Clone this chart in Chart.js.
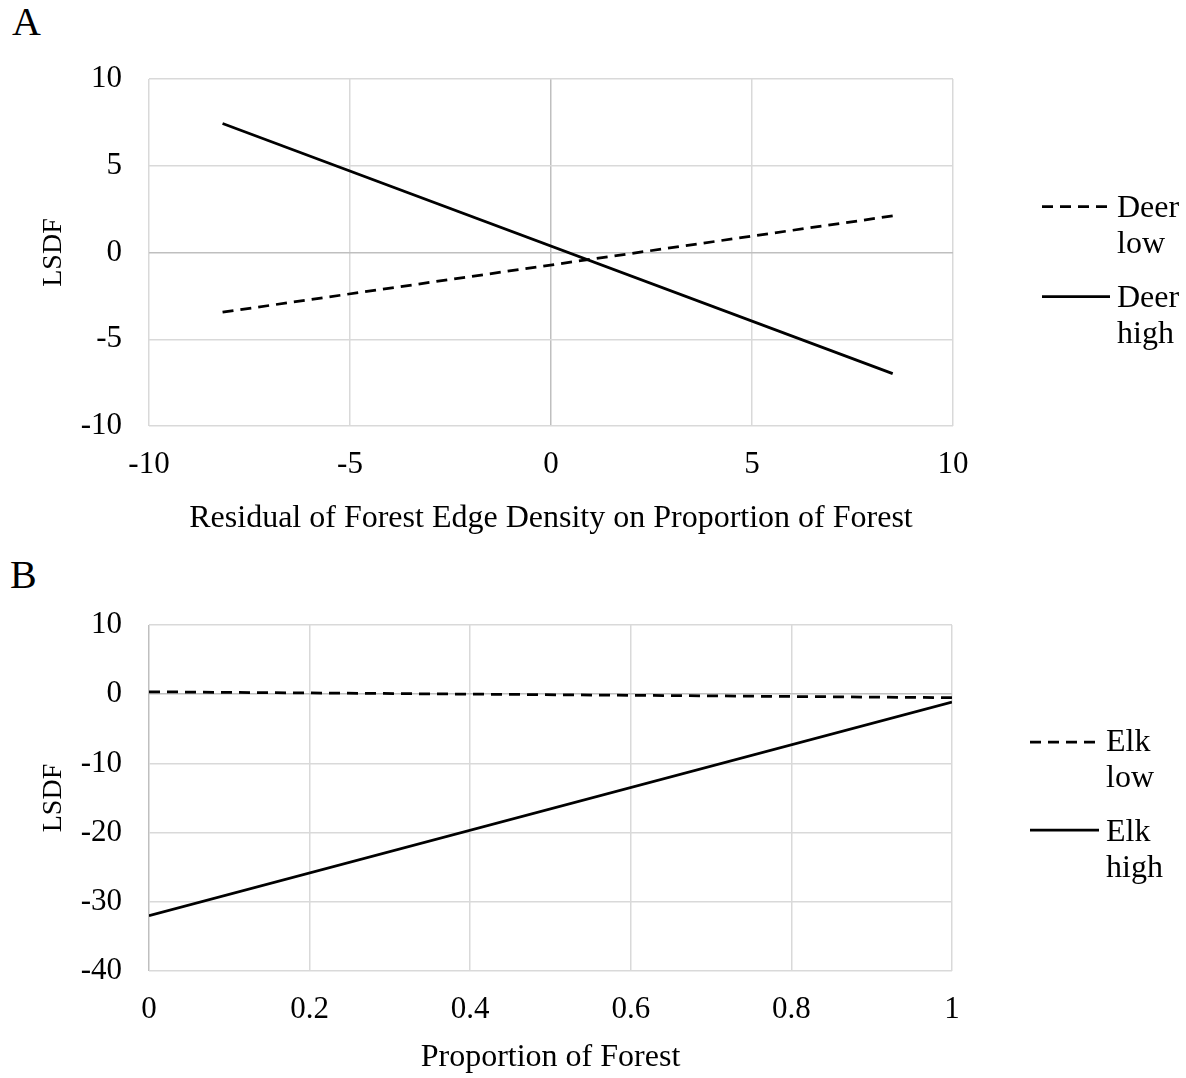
<!DOCTYPE html>
<html>
<head>
<meta charset="utf-8">
<script src="https://cdn.jsdelivr.net/npm/chart.js@4.4.1/dist/chart.umd.min.js"></script>
<style>
  body { margin: 0; background: #fff; width: 1186px; height: 1078px; position: relative; overflow: hidden;
         font-family: 'Liberation Serif', 'Times New Roman', serif; color: #000; }
  canvas { position: absolute; left: 0; }
  .panel { position: absolute; font-size: 40px; line-height: 40px; }
  .leg { position: absolute; font-size: 32px; line-height: 36px; }
  #legLines { position: absolute; left: 0; top: 0; }
</style>
</head>
<body>
<div class="panel" style="left:12px;top:2px">A</div>
<div class="panel" style="left:10px;top:555px">B</div>

<canvas id="chartA" width="1000" height="480" style="top:60px"></canvas>
<canvas id="chartB" width="1000" height="478" style="top:600px"></canvas>

<svg id="legLines" width="1186" height="1078">
  <line x1="1042" y1="206.7" x2="1110" y2="206.7" stroke="#000" stroke-width="2.75" stroke-dasharray="11 7"/>
  <line x1="1042" y1="296.7" x2="1110" y2="296.7" stroke="#000" stroke-width="2.75"/>
  <line x1="1030" y1="742" x2="1099" y2="742" stroke="#000" stroke-width="2.75" stroke-dasharray="11 7"/>
  <line x1="1030" y1="830" x2="1099" y2="830" stroke="#000" stroke-width="2.75"/>
</svg>
<div class="leg" style="left:1117px;top:188px">Deer<br>low</div>
<div class="leg" style="left:1117px;top:278px">Deer<br>high</div>
<div class="leg" style="left:1106px;top:722px">Elk<br>low</div>
<div class="leg" style="left:1106px;top:812px">Elk<br>high</div>

<script>
// --- panel A data ---
const edgeResidual = [-8.17, 8.5];
const deerLow = [-3.44, 2.11];
const deerHigh = [7.44, -6.98];
const xTicksA = [-10, -5, 0, 5, 10];
const yTicksA = [-10, -5, 0, 5, 10];

// --- panel B data ---
const forestProp = [0, 1];
const elkLow = [0.35, -0.5];
const elkHigh = [-32.0, -1.15];
const xTicksB = [0, 0.2, 0.4, 0.6, 0.8, 1];
const yTicksB = [-40, -30, -20, -10, 0, 10];

const FONT = "'Liberation Serif', 'Times New Roman', serif";

function pts(xs, ys) {
    return xs.map((x, i) => ({ x: x, y: ys[i] }));
}

function gridColor(ctx) {
    return ctx.tick && ctx.tick.value === 0 ? '#bfbfbf' : '#d9d9d9';
}

function makeChart(id, cfg) {
    new Chart(document.getElementById(id).getContext('2d'), {
        type: 'scatter',
        data: {
            datasets: [
                { label: cfg.labels[0], data: pts(cfg.x, cfg.low), borderDash: [11, 7] },
                { label: cfg.labels[1], data: pts(cfg.x, cfg.high) }
            ].map(d => Object.assign(d, {
                showLine: true, borderColor: '#000', backgroundColor: '#000',
                borderWidth: 2.75, pointRadius: 0, tension: 0
            }))
        },
        options: {
            responsive: false,
            animation: false,
            layout: { padding: { top: cfg.padTop, right: cfg.padRight, left: 0, bottom: 0 } },
            plugins: { legend: { display: false }, tooltip: { enabled: false } },
            scales: {
                x: {
                    type: 'linear',
                    min: cfg.xTicks[0], max: cfg.xTicks[cfg.xTicks.length - 1],
                    afterBuildTicks: s => { s.ticks = cfg.xTicks.map(v => ({ value: v })); },
                    afterFit: s => { s.height = cfg.xAxisH; s.paddingLeft = 0; s.paddingRight = 0; },
                    grid: { color: gridColor, lineWidth: 1.5, drawTicks: false },
                    border: { display: false },
                    ticks: { color: '#000', padding: 20, maxRotation: 0, autoSkip: false,
                             font: { family: FONT, size: 31 }, callback: v => String(v) },
                    title: { display: true, text: cfg.xTitle, color: '#000',
                             font: { family: FONT, size: 32 }, padding: { top: 0, bottom: cfg.titlePadB } }
                },
                y: {
                    type: 'linear',
                    min: cfg.yTicks[0], max: cfg.yTicks[cfg.yTicks.length - 1],
                    afterBuildTicks: s => { s.ticks = cfg.yTicks.map(v => ({ value: v })); },
                    afterFit: s => { s.width = 149; s.paddingTop = 0; s.paddingBottom = 0; },
                    grid: { color: gridColor, lineWidth: 1.5, drawTicks: false },
                    border: { display: false },
                    ticks: { color: '#000', padding: 27, font: { family: FONT, size: 31 },
                             callback: v => String(v) },
                    title: { display: true, text: 'LSDF', color: '#000',
                             font: { family: FONT, size: 28 }, padding: { top: 37, bottom: 0 } }
                }
            }
        }
    });
}

makeChart('chartA', {
    x: edgeResidual, low: deerLow, high: deerHigh, labels: ['Deer low', 'Deer high'],
    xTicks: xTicksA, yTicks: yTicksA,
    xTitle: 'Residual of Forest Edge Density on Proportion of Forest',
    padTop: 19, padRight: 47, xAxisH: 114, titlePadB: 2
});

makeChart('chartB', {
    x: forestProp, low: elkLow, high: elkHigh, labels: ['Elk low', 'Elk high'],
    xTicks: xTicksB, yTicks: yTicksB,
    xTitle: 'Proportion of Forest',
    padTop: 25, padRight: 48, xAxisH: 107, titlePadB: 1
});
</script>
</body>
</html>
